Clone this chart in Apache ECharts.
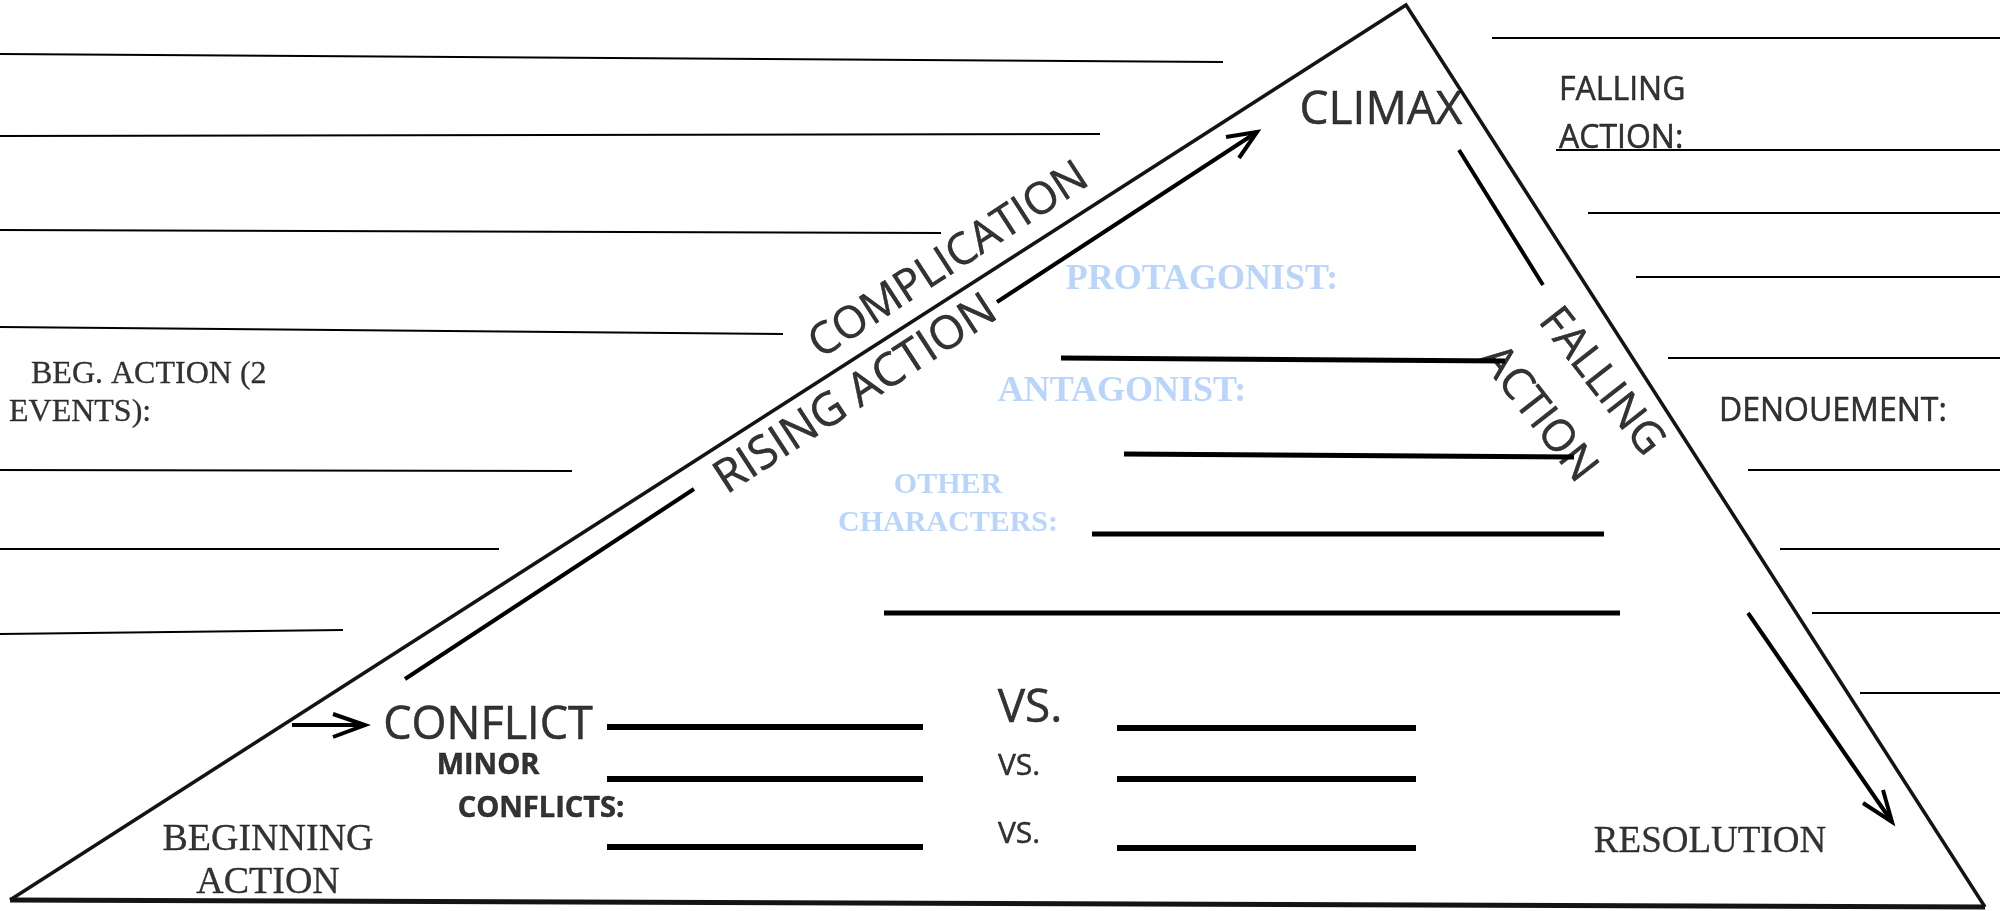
<!DOCTYPE html>
<html>
<head>
<meta charset="utf-8">
<title>Plot Diagram</title>
<script src="https://cdn.jsdelivr.net/npm/echarts@6/dist/echarts.min.js"></script>
<style>
html,body{margin:0;padding:0;background:#fff;}
#chart{width:2000px;height:911px;}
</style>
</head>
<body>
<div id="chart"></div>
<script>
// ---- data (diagram space: x 0..2000, y 0..911 top-down) ----
const triangleSides = [[10, 900], [1406, 5], [1985, 907]];
const triangleBase = [[10, 900], [1985, 907]];

const leftBlankLines = [
  [[0, 54], [1223, 62]],
  [[0, 136], [1100, 134]],
  [[0, 230], [941, 233]],
  [[0, 327], [783, 334]],
  [[0, 470], [572, 471]],
  [[0, 549], [499, 549]],
  [[0, 634], [343, 630]]
];

const rightBlankLines = [
  [[1492, 38], [2000, 38]],
  [[1556, 150], [2000, 150]],
  [[1588, 213], [2000, 213]],
  [[1636, 277], [2000, 277]],
  [[1668, 358], [2000, 358]],
  [[1748, 470], [2000, 470]],
  [[1780, 549], [2000, 549]],
  [[1812, 613], [2000, 613]],
  [[1860, 693], [2000, 693]]
];

const characterLines = [
  [[1061, 358], [1505, 361]],
  [[1124, 454], [1574, 457]],
  [[1092, 534], [1604, 534]],
  [[884, 613], [1620, 613]]
];

const conflictLines = [
  [[607, 727], [923, 727]], [[1117, 728], [1416, 728]],
  [[607, 779], [923, 779]], [[1117, 779], [1416, 779]],
  [[607, 847], [923, 847]], [[1117, 848], [1416, 848]]
];

const arrowStrokes = [
  [[405, 679], [694, 489]],
  [[997, 302], [1257, 132]],
  [[1226, 137], [1257, 132], [1239, 158]],
  [[1459, 150], [1543, 285]],
  [[1748, 613], [1892, 822]],
  [[1863, 803], [1892, 822], [1883, 790]],
  [[292, 725], [365, 725]],
  [[333, 714], [365, 725], [333, 737]]
];

// texts: [x, y, text, fontSize?]
const sansCenterTexts = [
  [1381, 111, 'CLIMAX', 46],
  [488, 726, 'CONFLICT', 45],
  [1030, 709, 'VS.', 46],
  [1019, 766, 'VS.', 30],
  [1019, 834, 'VS.', 30]
];
const sansLeftTexts = [
  [1559, 115, 'FALLING\nACTION:'],
  [1719, 412, 'DENOUEMENT:']
];
const boldTexts = [
  [488, 766, 'MINOR'],
  [541, 809, 'CONFLICTS:']
];
const blueTexts = [
  [1202, 280, 'PROTAGONIST:', 36],
  [1122, 392, 'ANTAGONIST:', 36],
  [948, 504, 'OTHER\nCHARACTERS:', 30]
];
const serifCenterTexts = [
  [268, 862, 'BEGINNING\nACTION', 38],
  [1710, 842, 'RESOLUTION', 37]
];
const serifLeftTexts = [
  [31, 375, 'BEG. ACTION (2'],
  [9, 413, 'EVENTS):']
];
const risingTexts = [
  [949, 261, 'COMPLICATION', 44],
  [856, 395, 'RISING ACTION', 46]
];
const fallingTexts = [
  [1601, 382, 'FALLING'],
  [1538, 414, 'ACTION']
];

// ---- build series ----
const series = [];
function addLines(list, width, color, z) {
  list.forEach(function (pts) {
    series.push({
      type: 'line', data: pts, symbol: 'none', silent: true, animation: false,
      lineStyle: { width: width, color: color, cap: 'butt', join: 'miter' }, z: z
    });
  });
}
addLines([triangleSides], 3.5, '#141414', 2);
addLines([triangleBase], 5, '#141414', 2);
addLines(leftBlankLines, 2, '#000', 2);
addLines(rightBlankLines, 2, '#000', 2);
addLines(characterLines, 5, '#000', 2);
addLines(conflictLines, 6, '#000', 2);
addLines(arrowStrokes, 4, '#000', 2);

function addTexts(list, labelOpt) {
  series.push({
    type: 'scatter', symbolSize: 0, silent: true, animation: false, z: 5,
    data: list.map(function (t) {
      const item = { value: [t[0], t[1]], name: t[2] };
      if (t[3]) item.label = { fontSize: t[3] };
      return item;
    }),
    label: Object.assign({ show: true, formatter: '{b}', color: '#000', textBorderColor: '#000', textBorderWidth: 0.5 }, labelOpt)
  });
}
addTexts(sansCenterTexts, { position: 'inside', align: 'center', verticalAlign: 'middle', fontFamily: 'Open Sans', fontSize: 46 });
addTexts(sansLeftTexts, { position: 'right', distance: 0, align: 'left', verticalAlign: 'middle', fontFamily: 'Open Sans', fontSize: 32, lineHeight: 48 });
addTexts(boldTexts, { position: 'inside', align: 'center', verticalAlign: 'middle', fontFamily: 'Open Sans', fontWeight: 'bold', fontSize: 29 });
addTexts(blueTexts, { position: 'inside', align: 'center', verticalAlign: 'middle', fontFamily: 'Liberation Serif', fontWeight: 'bold', color: '#a8cbfa', textBorderColor: '#a8cbfa', textBorderWidth: 0, fontSize: 35, lineHeight: 38 });
addTexts(serifCenterTexts, { position: 'inside', align: 'center', verticalAlign: 'middle', fontFamily: 'Liberation Serif', fontSize: 37, lineHeight: 43, textBorderWidth: 0.3 });
addTexts(serifLeftTexts, { position: 'right', distance: 0, align: 'left', verticalAlign: 'middle', fontFamily: 'Liberation Serif', fontSize: 32, textBorderWidth: 0.3 });
addTexts(risingTexts, { position: 'inside', align: 'center', verticalAlign: 'middle', fontFamily: 'Open Sans', fontSize: 44, rotate: 33 });
addTexts(fallingTexts, { position: 'inside', align: 'center', verticalAlign: 'middle', fontFamily: 'Open Sans', fontSize: 44, rotate: -52 });

const chart = echarts.init(document.getElementById('chart'), null, { renderer: 'canvas' });
chart.setOption({
  backgroundColor: '#fff',
  animation: false,
  grid: { left: 0, right: 0, top: 0, bottom: 0 },
  xAxis: { type: 'value', min: 0, max: 2000, show: false },
  yAxis: { type: 'value', min: 0, max: 911, inverse: true, show: false },
  series: series
});
</script>
</body>
</html>
